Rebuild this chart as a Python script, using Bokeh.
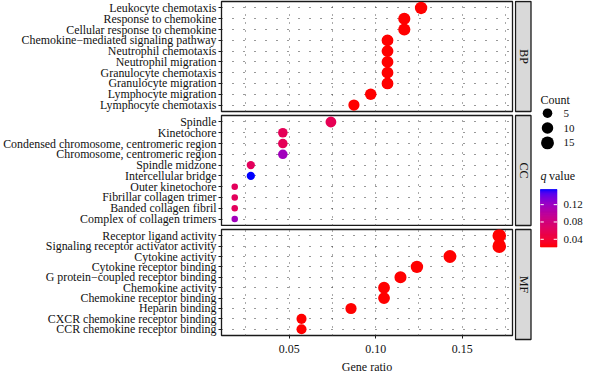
import math
import numpy as np
from bokeh.plotting import figure
from bokeh.layouts import row, column
from bokeh.models import (ColumnDataSource, Range1d, FixedTicker, LinearColorMapper,
                          LinearAxis, Grid, PrintfTickFormatter)
from bokeh.transform import transform
from bokeh.core.properties import value
from bokeh.embed import file_html
from bokeh.resources import INLINE

# ---------------- data ----------------
bp_terms = ["Leukocyte chemotaxis", "Response to chemokine", "Cellular response to chemokine",
            "Chemokine\u2212mediated signaling pathway", "Neutrophil chemotaxis", "Neutrophil migration",
            "Granulocyte chemotaxis", "Granulocyte migration", "Lymphocyte migration",
            "Lymphocyte chemotaxis"]
bp_ratio = [0.1262, 0.1165, 0.1165, 0.1068, 0.1068, 0.1068, 0.1068, 0.1068, 0.0971, 0.0874]
bp_count = [13, 12, 12, 11, 11, 11, 11, 11, 10, 9]
bp_q = [0.0222, 0.0222, 0.0222, 0.0222, 0.0222, 0.0222, 0.0222, 0.0222, 0.0222, 0.0222]

cc_terms = ["Spindle", "Kinetochore", "Condensed chromosome, centromeric region",
            "Chromosome, centromeric region", "Spindle midzone", "Intercellular bridge",
            "Outer kinetochore", "Fibrillar collagen trimer", "Banded collagen fibril",
            "Complex of collagen trimers"]
cc_ratio = [0.0741, 0.0463, 0.0463, 0.0463, 0.0278, 0.0278, 0.0185, 0.0185, 0.0185, 0.0185]
cc_count = [8, 5, 5, 5, 3, 3, 2, 2, 2, 2]
cc_q = [0.058, 0.060, 0.060, 0.118, 0.062, 0.155, 0.062, 0.062, 0.062, 0.118]

mf_terms = ["Receptor ligand activity", "Signaling receptor activator activity", "Cytokine activity",
            "Cytokine receptor binding", "G protein\u2212coupled receptor binding", "Chemokine activity",
            "Chemokine receptor binding", "Heparin binding", "CXCR chemokine receptor binding",
            "CCR chemokine receptor binding"]
mf_ratio = [0.1714, 0.1714, 0.1429, 0.1238, 0.1143, 0.1048, 0.1048, 0.0857, 0.0571, 0.0571]
mf_count = [18, 18, 15, 13, 12, 11, 11, 9, 6, 6]
mf_q = [0.0222, 0.0222, 0.0222, 0.0222, 0.0222, 0.0222, 0.0222, 0.0222, 0.0222, 0.0222]

ontologies = ["BP", "CC", "MF"]
x_ticks = [0.05, 0.10, 0.15]
x_minor = [0.025, 0.075, 0.125, 0.175]
count_legend = [5, 10, 15]
q_ticks = [0.04, 0.08, 0.12]

FONT = "Liberation Serif"
TXT = "#1a1a1a"
LBL = "#111111"

# ---------------- colour scale (Lab interpolation red -> blue) ----------------
M = np.array([[0.4124564, 0.3575761, 0.1804375],
              [0.2126729, 0.7151522, 0.0721750],
              [0.0193339, 0.1191920, 0.9503041]])
MI = np.linalg.inv(M)
WN = np.array([0.95047, 1.0, 1.08883])
D = 6 / 29


def to_lab(rgb):
    c = np.array(rgb) / 255.0
    lin = np.where(c <= 0.04045, c / 12.92, ((c + 0.055) / 1.055) ** 2.4)
    t = (M @ lin) / WN
    f = np.where(t > D ** 3, np.cbrt(t), t / (3 * D * D) + 4 / 29)
    return np.array([116 * f[1] - 16, 500 * (f[0] - f[1]), 200 * (f[1] - f[2])])


def to_hex(lab):
    fy = (lab[0] + 16) / 116
    f = np.array([fy + lab[1] / 500, fy, fy - lab[2] / 200])
    t = np.where(f > D, f ** 3, 3 * D * D * (f - 4 / 29))
    lin = np.clip(MI @ (t * WN), 0, 1)
    c = np.where(lin <= 0.0031308, 12.92 * lin, 1.055 * lin ** (1 / 2.4) - 0.055)
    c = np.clip(np.round(c * 255), 0, 255).astype(int)
    return "#%02x%02x%02x" % tuple(c)


lo_lab, hi_lab = to_lab((255, 0, 0)), to_lab((0, 0, 255))
palette = [to_hex(lo_lab + (hi_lab - lo_lab) * k / 255) for k in range(256)]

all_q = bp_q + cc_q + mf_q
qmin, qmax = min(all_q), max(all_q)
mapper = LinearColorMapper(palette=palette, low=qmin, high=qmax)

all_counts = bp_count + cc_count + mf_count
cmin, cmax = min(all_counts), max(all_counts)


def dsize(c):
    t = math.sqrt((c - cmin) / (cmax - cmin))
    return 6.5 + 7.1 * t


all_ratio = bp_ratio + cc_ratio + mf_ratio
pad = 0.05 * (max(all_ratio) - min(all_ratio))
x_range = Range1d(min(all_ratio) - pad, max(all_ratio) + pad)

panels = [(bp_terms, bp_ratio, bp_count, bp_q),
          (cc_terms, cc_ratio, cc_count, cc_q),
          (mf_terms, mf_ratio, mf_count, mf_q)]
# (top border, bottom border, height)
geo = [(1, 2, 113), (2, 1, 113), (3, 37, 150)]
frames = []
figs = []
ytop = 0
for i, (terms, ratio, count, q) in enumerate(panels):
    n = len(terms)
    ypos = [n - k for k in range(n)]
    bt, bb, h = geo[i]
    frames.append((ytop + bt, ytop + h - bb))
    ytop += h
    p = figure(width=514, height=h, x_range=x_range, y_range=Range1d(0.4, n + 0.6),
               x_axis_type=None, y_axis_type=None, output_backend="svg",
               toolbar_location=None, tools="",
               min_border_left=221, min_border_right=2, min_border_top=bt, min_border_bottom=bb)
    p.outline_line_color = TXT
    p.outline_line_width = 1.3
    p.background_fill_color = "white"
    p.border_fill_color = "white"

    yax = LinearAxis(ticker=FixedTicker(ticks=ypos),
                     major_label_overrides={y: t for y, t in zip(ypos, terms)})
    yax.axis_line_color = None
    yax.major_tick_out = 3
    yax.major_tick_in = 0
    yax.major_tick_line_color = TXT
    yax.minor_tick_line_color = None
    yax.major_label_standoff = 2
    yax.major_label_text_font = FONT
    yax.major_label_text_font_size = "11.9px"
    yax.major_label_text_color = LBL
    p.add_layout(yax, "left")

    gx = Grid(dimension=0, ticker=FixedTicker(ticks=x_ticks, minor_ticks=x_minor))
    gx.grid_line_color = "#555555"
    gx.grid_line_dash = "1 7"
    gx.minor_grid_line_color = "#555555"
    gx.minor_grid_line_dash = "1 7"
    p.add_layout(gx)
    gy = Grid(dimension=1, ticker=FixedTicker(ticks=ypos))
    gy.grid_line_color = "#333333"
    gy.grid_line_dash = "1 10"
    p.add_layout(gy)

    if i == 2:
        xax = LinearAxis(ticker=FixedTicker(ticks=x_ticks), formatter=PrintfTickFormatter(format="%.2f"),
                         axis_label="Gene ratio")
        xax.axis_line_color = None
        xax.major_tick_out = 3
        xax.major_tick_in = 0
        xax.major_tick_line_color = TXT
        xax.minor_tick_line_color = None
        xax.major_label_standoff = 6
        xax.major_label_text_font = FONT
        xax.major_label_text_font_size = "11.9px"
        xax.major_label_text_color = LBL
        xax.axis_label_standoff = 4
        xax.axis_label_text_font = FONT
        xax.axis_label_text_font_size = "12px"
        xax.axis_label_text_font_style = "normal"
        xax.axis_label_text_color = LBL
        p.add_layout(xax, "below")

    src = ColumnDataSource(dict(x=ratio, y=ypos, q=q, size=[dsize(c) for c in count]))
    p.scatter("x", "y", size="size", source=src, fill_color=transform("q", mapper), line_color=None)
    figs.append(p)

# ---------------- right side: strips + legends ----------------
H = sum(g[2] for g in geo)
rf = figure(width=70, height=H, x_range=Range1d(514, 584), y_range=Range1d(H, 0),
            x_axis_type=None, y_axis_type=None, output_backend="svg",
            toolbar_location=None, tools="", min_border=0)
rf.outline_line_color = None
rf.background_fill_color = "white"
rf.border_fill_color = "white"

ssrc = ColumnDataSource(dict(top=[f[0] for f in frames], bottom=[f[1] for f in frames],
                             mid=[(f[0] + f[1]) / 2 for f in frames], lab=ontologies))
rf.quad(left=515, right=530.5, top="top", bottom="bottom", source=ssrc,
        fill_color="#d9d9d9", line_color=TXT, line_width=1.3)
rf.text(x=523, y="mid", text="lab", source=ssrc, angle=-math.pi / 2,
        text_align="center", text_baseline="middle", text_font=value(FONT),
        text_font_size="11.9px", text_color=LBL)

# Count legend
rf.text(x=[540], y=[99.5], text=["Count"], text_baseline="middle", text_align="left",
        text_font=value(FONT), text_font_size="12px", text_color=LBL)
key_y = [112.7, 127.5, 142.4]
lsrc = ColumnDataSource(dict(y=key_y, s=[dsize(c) for c in count_legend],
                             lab=[str(c) for c in count_legend]))
rf.scatter(x=547, y="y", size="s", source=lsrc, fill_color="black", line_color=None)
rf.text(x=563, y="y", text="lab", source=lsrc, text_baseline="middle", text_align="left",
        text_font=value(FONT), text_font_size="11px", text_color=LBL)

# q value legend
rf.text(x=[540], y=[175.5], text=["q"], text_baseline="middle", text_align="left",
        text_font=value(FONT), text_font_size="12px", text_font_style="italic", text_color=LBL)
rf.text(x=[548.5], y=[175.5], text=["value"], text_baseline="middle", text_align="left",
        text_font=value(FONT), text_font_size="12px", text_color=LBL)

bar_top, bar_bot = 189.0, 246.5
nb = 120
vals = [qmin + (k + 0.5) / nb * (qmax - qmin) for k in range(nb)]
bsrc = ColumnDataSource(dict(v=vals,
                             top=[bar_bot - (k + 1) / nb * (bar_bot - bar_top) for k in range(nb)],
                             bottom=[bar_bot - k / nb * (bar_bot - bar_top) for k in range(nb)]))
rf.quad(left=540, right=556.5, top="top", bottom="bottom", source=bsrc,
        fill_color=transform("v", mapper), line_color=transform("v", mapper), line_width=0.6)


def qy(v):
    return bar_bot - (v - qmin) / (qmax - qmin) * (bar_bot - bar_top)


ty = [qy(v) for v in q_ticks]
rf.segment(x0=540, x1=543.3, y0=ty, y1=ty, line_color="white", line_width=1)
rf.segment(x0=553.2, x1=556.5, y0=ty, y1=ty, line_color="white", line_width=1)
rf.text(x=563, y=ty, text=["%.2f" % v for v in q_ticks], text_baseline="middle", text_align="left",
        text_font=value(FONT), text_font_size="11px", text_color=LBL)

layout = row(column(*figs), rf)
open("out.html", "w").write(file_html(layout, INLINE))
